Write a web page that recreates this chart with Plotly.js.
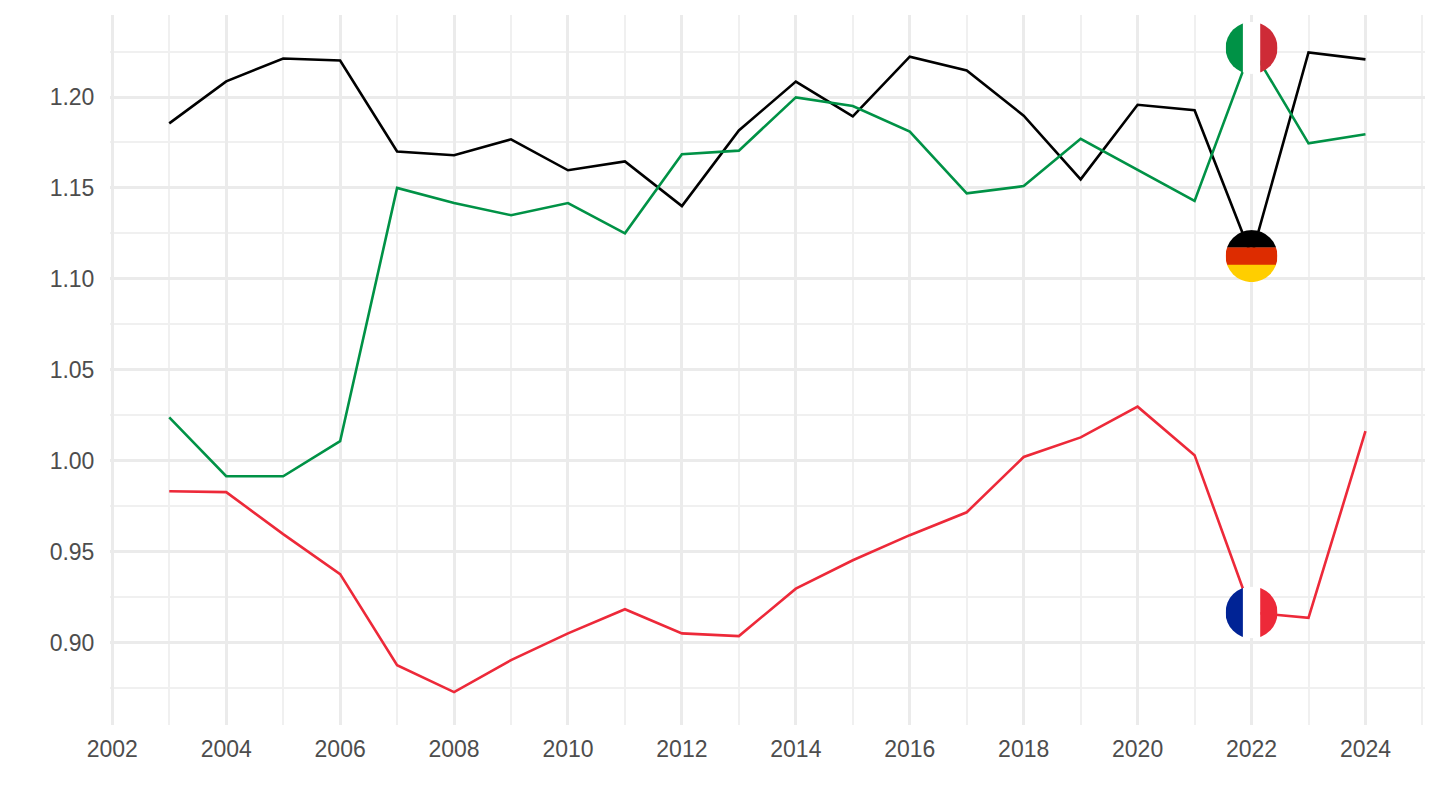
<!DOCTYPE html>
<html>
<head>
<meta charset="utf-8">
<script src="https://cdn.plot.ly/plotly-3.0.1.min.js"></script>
<style>html,body{margin:0;padding:0;background:#fff}</style>
</head>
<body>
<div id="chart" style="width:1440px;height:810px"></div>
<script>
const years = [2003,2004,2005,2006,2007,2008,2009,2010,2011,2012,2013,2014,2015,2016,2017,2018,2019,2020,2021,2022,2023,2024];
const germany = [1.1855,1.2086,1.2212,1.2201,1.170,1.168,1.1767,1.1597,1.1646,1.140,1.1816,1.2085,1.1893,1.2222,1.2146,1.1897,1.1547,1.1957,1.1927,1.1125,1.2245,1.2207];
const italy = [1.0238,0.9914,0.9914,1.0107,1.150,1.1417,1.135,1.1417,1.125,1.1685,1.1705,1.1998,1.195,1.181,1.147,1.151,1.177,1.160,1.1428,1.227,1.1745,1.1795];
const france = [0.9832,0.9827,0.9596,0.9376,0.8875,0.8727,0.8903,0.905,0.9183,0.905,0.9035,0.9296,0.9452,0.959,0.9716,1.002,1.0128,1.0297,1.003,0.9165,0.9135,1.0162];
const seriesColors = {germany:'#000000', italy:'#009246', france:'#ED2939'};
const flagYear = 2022;
const flagIndex = years.indexOf(flagYear);

function stripes(kind, cols){
  const rects = kind === 'v'
    ? cols.map((c,i)=>`<rect x="${i*52/3}" y="0" width="${52/3+0.3}" height="52" fill="${c}"/>`)
    : cols.map((c,i)=>`<rect x="0" y="${i*52/3}" width="52" height="${52/3+0.3}" fill="${c}"/>`);
  const svg = `<svg xmlns="http://www.w3.org/2000/svg" width="208" height="208" viewBox="0 0 52 52"><defs><clipPath id="c"><circle cx="26" cy="26" r="26"/></clipPath></defs><g clip-path="url(#c)">${rects.join('')}</g></svg>`;
  return 'data:image/svg+xml;base64,' + btoa(svg);
}
const flagImages = [
  {src: stripes('v',['#009246','#FFFFFF','#CE2B37']), y: italy[flagIndex]},
  {src: stripes('h',['#000000','#DD2C00','#FFCE00']), y: germany[flagIndex]},
  {src: stripes('v',['#002395','#FFFFFF','#ED2939']), y: france[flagIndex]}
];

const xRange = [2001.96, 2025.045];
const yRange = [0.8546, 1.2451];
const plotW = 1440-109.5-15;
const plotH = 810-15-85;
const xSize = 52/(plotW/(xRange[1]-xRange[0]));
const ySize = 52/(plotH/(yRange[1]-yRange[0]));

const line = (y,color,name)=>({x:years,y:y,type:'scatter',mode:'lines',name:name,
  line:{color:color,width:2.6,shape:'linear'},hoverinfo:'skip'});

const tickFont = {family:'"Liberation Sans", Arial, sans-serif', size:23, color:'#4d4d4d'};
const data = [line(germany,seriesColors.germany,'Germany'),line(italy,seriesColors.italy,'Italy'),line(france,seriesColors.france,'France')];
const layout = {
  width:1440,height:810,autosize:false,showlegend:false,
  paper_bgcolor:'#ffffff',plot_bgcolor:'#ffffff',
  margin:{l:109.5,r:15,t:15,b:85,pad:0},
  xaxis:{range:xRange,tick0:2002,dtick:2,tickmode:'linear',showgrid:true,gridcolor:'#ebebeb',gridwidth:3,
    zeroline:false,showline:false,ticks:'outside',ticklen:3,tickcolor:'rgba(0,0,0,0)',tickfont:tickFont,
    minor:{dtick:1,showgrid:true,gridcolor:'#f0f0f0',gridwidth:2,ticks:''}},
  yaxis:{range:yRange,tick0:0.9,dtick:0.05,tickmode:'linear',tickformat:'.2f',showgrid:true,gridcolor:'#ebebeb',gridwidth:3,
    zeroline:false,showline:false,ticks:'outside',ticklen:10,tickcolor:'rgba(0,0,0,0)',tickfont:tickFont,
    minor:{dtick:0.025,showgrid:true,gridcolor:'#f0f0f0',gridwidth:2,ticks:''}},
  images:flagImages.map(f=>({source:f.src,xref:'x',yref:'y',x:flagYear,y:f.y,sizex:xSize,sizey:ySize,
    xanchor:'center',yanchor:'middle',sizing:'stretch',layer:'above'}))
};
Plotly.newPlot('chart',data,layout,{displayModeBar:false,staticPlot:true});
</script>
</body>
</html>
